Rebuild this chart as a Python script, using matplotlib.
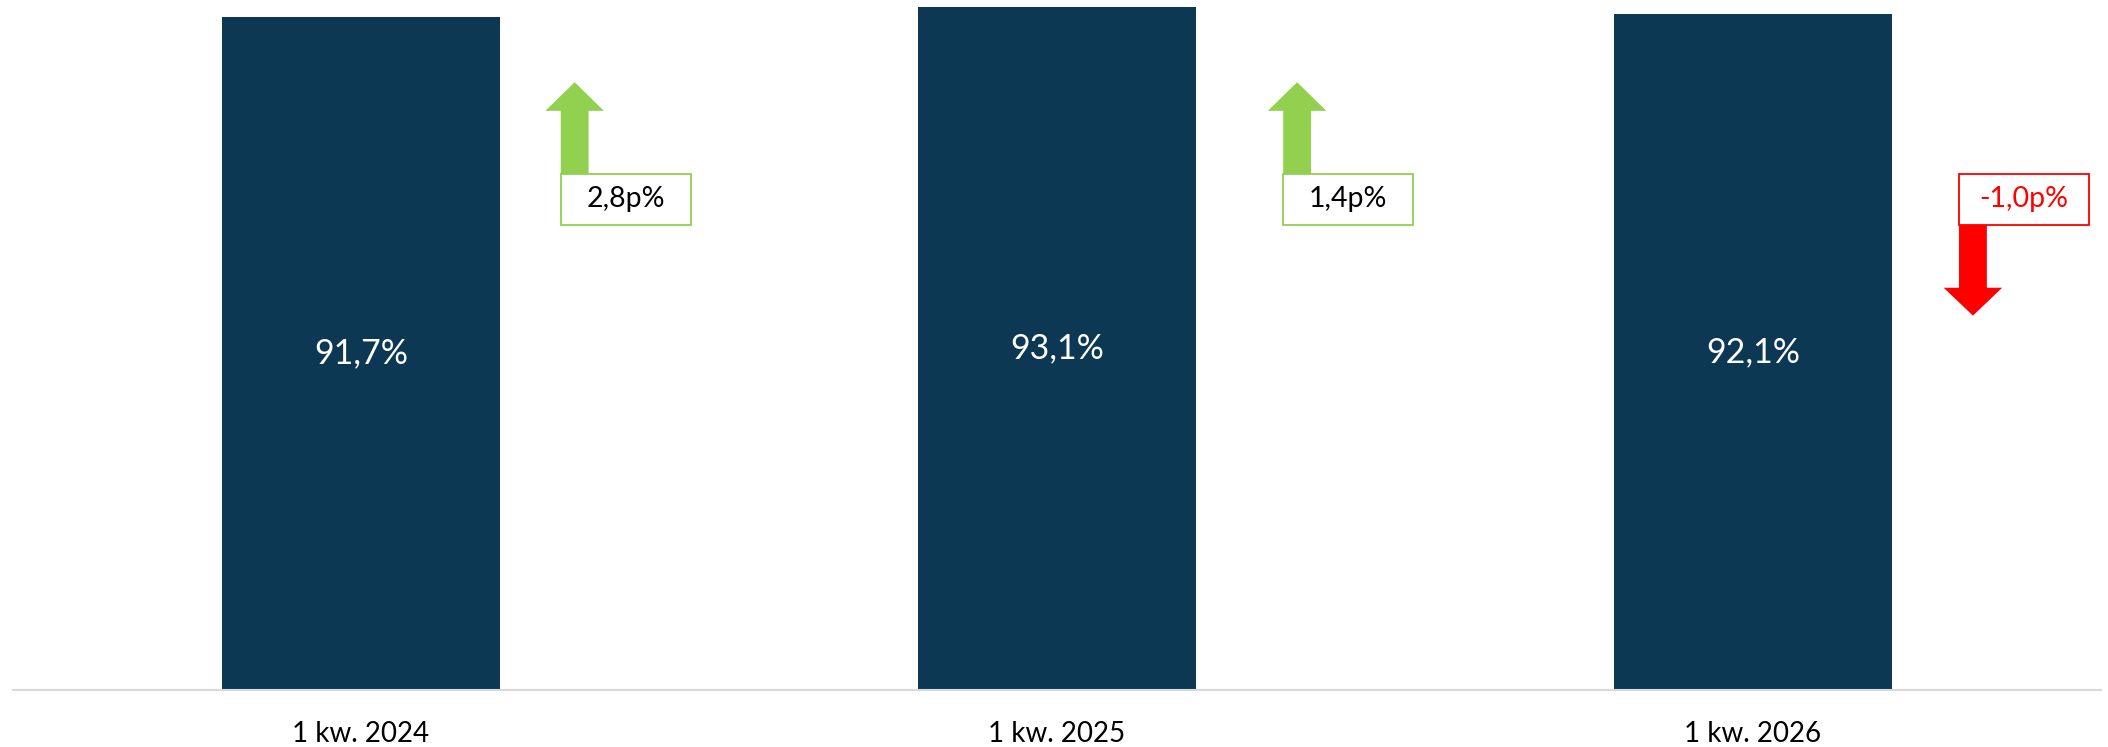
import matplotlib.pyplot as plt
from matplotlib.patches import Polygon, Rectangle

plt.rcParams['font.family'] = ['Lato', 'DejaVu Sans']

# Data
categories = ['1 kw. 2024', '1 kw. 2025', '1 kw. 2026']
values = [91.7, 93.1, 92.1]
changes = [2.8, 1.4, -1.0]

bar_color = '#0D3853'
up_color = '#92D050'
down_color = '#FF0000'

def pl(x, suffix):
    return f"{x:.1f}".replace('.', ',') + suffix

fig = plt.figure(figsize=(21.08, 7.47), dpi=100)
ax = fig.add_axes([13 / 2108, 57 / 747, 2088 / 2108, 690 / 747])

x = list(range(len(categories)))
bars = ax.bar(x, values, width=0.4, color=bar_color)
ax.bar_label(bars, labels=[pl(v, '%') for v in values], label_type='center',
             color='white', fontsize=24.5)

ax.set_xlim(-0.5, 2.5)
ax.set_ylim(0, 94)
ax.set_xticks(x)
ax.set_xticklabels(categories, fontsize=20)
ax.tick_params(axis='x', length=0, pad=22)
ax.set_yticks([])
for s in ['top', 'left', 'right']:
    ax.spines[s].set_visible(False)
ax.spines['bottom'].set_color('#D9D9D9')
ax.spines['bottom'].set_linewidth(1.5)

# change markers: arrow + boxed label next to each bar
offsets = [0.287, 0.325, 0.296]
box_w, box_h = 0.187, 6.9
box_y0 = 63.4
sw, hw = 0.020, 0.042
for i, d in enumerate(changes):
    left = x[i] + offsets[i]
    cx = left + sw
    if d >= 0:
        col, txtcol = up_color, 'black'
        y0, y1, y2 = box_y0 + box_h, 78.9, 82.8
    else:
        col, txtcol = down_color, down_color
        y0, y1, y2 = box_y0, 54.8, 51.0
    pts = [(cx - sw, y0), (cx - sw, y1), (cx - hw, y1), (cx, y2),
           (cx + hw, y1), (cx + sw, y1), (cx + sw, y0)]
    ax.add_patch(Polygon(pts, closed=True, facecolor=col, edgecolor='none', clip_on=False))
    ax.add_patch(Rectangle((left, box_y0), box_w, box_h, facecolor='white',
                           edgecolor=col, linewidth=1.3, clip_on=False))
    ax.text(left + box_w / 2, box_y0 + box_h / 2, pl(d, 'p%'), ha='center', va='center',
            fontsize=20.5, color=txtcol)

fig.savefig('out.png', dpi=100)
